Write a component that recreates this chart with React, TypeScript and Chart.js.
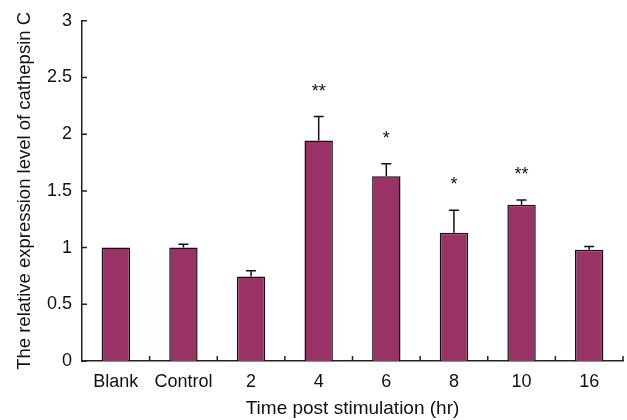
import React, { useEffect, useRef } from "react";
import { Chart, registerables } from "chart.js";

Chart.register(...registerables);

const categories = ["Blank", "Control", "2", "4", "6", "8", "10", "16"];
const values = [1.0, 1.0, 0.745, 1.945, 1.63, 1.13, 1.377, 0.98];
const errors = [0, 0.03, 0.05, 0.21, 0.11, 0.2, 0.043, 0.03];
const marks = ["", "", "", "**", "*", "*", "**", ""];
const yTicks = [0, 0.5, 1, 1.5, 2, 2.5, 3];

const FONT = "'Liberation Sans', Arial, Helvetica, sans-serif";
const AXIS = "#222";

const overlayPlugin = {
  id: "overlay",
  afterDatasetsDraw(chart: any) {
    const ctx = chart.ctx;
    const meta = chart.getDatasetMeta(0);
    const y = chart.scales.y;
    const area = chart.chartArea;
    ctx.save();
    meta.data.forEach((bar: any, i: number) => {
      const top = values[i] + errors[i];
      const yTop = y.getPixelForValue(top);
      const yBar = y.getPixelForValue(values[i]);
      if (errors[i] > 0) {
        ctx.strokeStyle = "#111";
        ctx.lineWidth = 1.5;
        ctx.beginPath();
        ctx.moveTo(bar.x, yBar);
        ctx.lineTo(bar.x, yTop);
        ctx.moveTo(bar.x - 5, yTop);
        ctx.lineTo(bar.x + 5, yTop);
        ctx.stroke();
      }
      if (marks[i]) {
        ctx.fillStyle = "#111";
        ctx.font = `18px ${FONT}`;
        ctx.textAlign = "center";
        ctx.textBaseline = "middle";
        ctx.fillText(marks[i], bar.x, yTop - 25);
      }
    });
    ctx.strokeStyle = AXIS;
    ctx.lineWidth = 1.5;
    ctx.beginPath();
    yTicks.forEach((v) => {
      const py = y.getPixelForValue(v);
      ctx.moveTo(area.left, py);
      ctx.lineTo(area.left + 5, py);
    });
    for (let i = 1; i <= categories.length; i++) {
      const px = area.left + ((area.right - area.left) * i) / categories.length;
      ctx.moveTo(px, area.bottom);
      ctx.lineTo(px, area.bottom - 5);
    }
    ctx.stroke();
    ctx.restore();
  },
};

export default function App() {
  const ref = useRef<HTMLCanvasElement>(null);
  useEffect(() => {
    if (!ref.current) return;
    const chart = new Chart(ref.current, {
      type: "bar",
      data: {
        labels: categories,
        datasets: [
          {
            data: values,
            backgroundColor: "#993366",
            borderColor: "#111",
            borderWidth: 1.5,
            barPercentage: 0.84,
            categoryPercentage: 0.5,
          },
        ],
      },
      options: {
        animation: false,
        responsive: false,
        maintainAspectRatio: false,
        layout: { padding: { top: 17, right: 4, left: 0, bottom: 0 } },
        plugins: { legend: { display: false }, tooltip: { enabled: false } },
        scales: {
          x: {
            grid: { display: false, drawTicks: false },
            border: { display: true, color: AXIS, width: 1.5 },
            ticks: { color: "#111", font: { family: FONT, size: 18 }, padding: 10 },
            title: {
              display: true,
              text: "Time post stimulation (hr)",
              color: "#111",
              font: { family: FONT, size: 19 },
              padding: { top: 0, bottom: 0 },
            },
            afterFit: (s: any) => {
              s.height = 59;
            },
          },
          y: {
            min: 0,
            max: 3,
            grid: { display: false, drawTicks: false },
            border: { display: true, color: AXIS, width: 1.5 },
            afterBuildTicks: (s: any) => {
              s.ticks = yTicks.map((v) => ({ value: v }));
            },
            ticks: {
              color: "#111",
              font: { family: FONT, size: 18 },
              padding: 10,
              callback: (v: any) => String(v),
            },
            title: {
              display: true,
              text: "The relative expression level of cathepsin C",
              color: "#111",
              font: { family: FONT, size: 18.5 },
              padding: { top: 14, bottom: 4 },
            },
            afterFit: (s: any) => {
              s.width = 82;
            },
          },
        },
      },
      plugins: [overlayPlugin],
    });
    return () => chart.destroy();
  }, []);
  return (
    <div style={{ position: "fixed", left: 0, top: 0, width: 627, height: 420, background: "#fff" }}>
      <canvas ref={ref} width={627} height={420} />
    </div>
  );
}
